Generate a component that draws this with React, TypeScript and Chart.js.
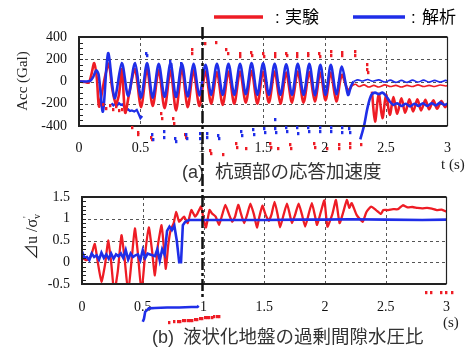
import React, { useEffect, useRef } from 'react';
import { Chart, registerables } from 'chart.js';

Chart.register(...registerables);

type P = [number, number];

const RED = '#ee1c25';
const BLUE = '#1f2ee8';

const X_TICKS = [0, 0.5, 1, 1.5, 2, 2.5, 3];
const ACC_TICKS = [-400, -200, 0, 200, 400];
const PWP_TICKS = [-0.5, 0, 0.5, 1, 1.5];
const ACC_MINOR = 50;
const PWP_MINOR = 0.1;
const MARKER_T = 0.99;

const LEGEND = ['実験', '解析'];
const CAPTION_A = ['(a)', '杭頭部の応答加速度'];
const CAPTION_B = ['(b)', '液状化地盤の過剰間隙水圧比'];

// (a) response acceleration at pile head [t (s), Gal]
const accAna: P[] = [
  [0, 0], [0.05, 0], [0.09, 5], [0.115, 40], [0.14, 100], [0.16, 60], [0.195, -270], [0.237, 255],
  [0.29, -150], [0.349, 165], [0.4, -130], [0.456, 165], [0.505, -145], [0.554, 165], [0.6, -145],
  [0.649, 160], [0.697, -140], [0.745, 165], [0.79, -140], [0.838, 160], [0.885, -135], [0.932, 160],
  [0.98, -125], [1.03, 150], [1.076, -120], [1.123, 160], [1.17, -120], [1.217, 160], [1.264, -120],
  [1.311, 160], [1.358, -115], [1.405, 165], [1.452, -120], [1.499, 165], [1.546, -120], [1.593, 160],
  [1.64, -120], [1.687, 155], [1.734, -120], [1.781, 160], [1.828, -120], [1.875, 160], [1.92, -125],
  [1.965, 150], [2.007, -120], [2.05, 150], [2.095, -115], [2.14, 135], [2.19, -120], [2.215, -40],
  [2.235, 0],
];
const accExp: P[] = [
  [0, 0], [0.05, -5], [0.08, -10], [0.1, 60], [0.124, 165], [0.145, 30], [0.163, -225], [0.19, -80],
  [0.215, 60], [0.243, 160], [0.27, -60], [0.3, -200], [0.325, -120], [0.349, 110], [0.376, -280],
  [0.41, -100], [0.456, 110], [0.505, -230], [0.554, 110], [0.6, -220], [0.649, 100], [0.697, -240],
  [0.745, 100], [0.79, -260], [0.838, 110], [0.885, -230], [0.932, 100], [0.98, -220], [1.03, 90],
  [1.076, -200], [1.123, 85], [1.17, -210], [1.217, 90], [1.264, -200], [1.311, 90], [1.358, -190],
  [1.405, 95], [1.452, -200], [1.499, 90], [1.546, -190], [1.593, 90], [1.64, -200], [1.687, 80],
  [1.734, -190], [1.781, 90], [1.828, -190], [1.875, 85], [1.92, -180], [1.965, 80], [2.007, -170],
  [2.05, 80], [2.095, -180], [2.14, 60], [2.19, -80], [2.22, -40],
];
const accAnaTail: P[] = [
  [2.235, 0], [2.27, 15], [2.31, 5], [2.35, 18], [2.39, 2], [2.44, 15], [2.49, -5], [2.535, 12],
  [2.58, -8], [2.625, 10], [2.67, -8], [2.715, 12], [2.76, -5], [2.805, 12], [2.85, -5], [2.895, 10],
  [2.94, -5], [2.985, 10], [3.0, 5],
];
const accExpTail: P[] = [
  [2.22, -40], [2.25, -25], [2.28, -45], [2.32, -30], [2.36, -50], [2.4, -35], [2.44, -50], [2.49, -30],
  [2.535, -45], [2.58, -35], [2.625, -50], [2.67, -35], [2.715, -45], [2.76, -30], [2.805, -45],
  [2.85, -35], [2.895, -45], [2.94, -32], [2.985, -40], [3.0, -38],
];
const accAnaLate: P[] = [
  [2.29, -520], [2.32, -400], [2.35, -230], [2.38, -120], [2.41, -100], [2.44, -115], [2.47, -100],
  [2.5, -130], [2.53, -180], [2.56, -210], [2.59, -195], [2.625, -220], [2.66, -200], [2.695, -225],
  [2.73, -200], [2.765, -220], [2.8, -195], [2.835, -220], [2.87, -195], [2.905, -215], [2.94, -190],
  [2.975, -210], [3.0, -200],
];
const accExpLate: P[] = [
  [2.385, -90], [2.41, -360], [2.44, -110], [2.47, -330], [2.5, -120], [2.53, -300], [2.56, -140],
  [2.59, -290], [2.625, -150], [2.655, -280], [2.69, -160], [2.72, -270], [2.755, -160], [2.785, -260],
  [2.82, -165], [2.85, -250], [2.885, -170], [2.915, -245], [2.95, -175], [2.98, -230], [3.0, -200],
];
const accAnaOffset: P[] = [
  [0.265, -195], [0.28, -215], [0.295, -200], [0.31, -215], [0.325, -195], [0.34, -210], [0.355, -205],
  [0.37, -230], [0.385, -255], [0.4, -250], [0.415, -265], [0.43, -260], [0.45, -270], [0.47, -255],
  [0.485, -290], [0.5, -330], [0.515, -310],
];
const accExpDotsHigh: P[] = [
  [0.92, 290], [0.925, 255], [1.025, 345], [1.12, 350], [1.2, 285], [1.215, 250], [1.31, 255],
  [1.315, 225], [1.405, 260], [1.41, 230], [1.5, 255], [1.505, 225], [1.595, 255], [1.6, 225],
  [1.69, 255], [1.695, 230], [1.775, 255], [1.78, 225], [1.865, 255], [1.87, 230], [1.955, 250],
  [1.96, 220], [2.05, 265], [2.055, 235], [2.14, 260], [2.145, 230], [2.245, 265], [2.25, 235],
  [2.345, 150], [2.35, 110], [2.355, 80],
];
const accExpDotsLow: P[] = [
  [0.2, -210], [0.225, -240], [0.25, -215], [0.275, -250], [0.3, -225], [0.325, -265], [0.355, -255],
  [0.43, -410], [0.48, -455], [0.485, -475], [0.59, -500], [0.595, -525], [0.67, -290], [0.675, -330],
  [0.77, -330], [0.775, -380], [0.865, -480], [0.87, -505], [1.07, -620], [1.075, -645], [1.17, -660],
  [1.28, -560], [1.285, -590], [1.36, -600], [1.56, -560], [1.565, -590], [1.625, -600], [1.72, -570],
  [1.725, -600], [1.915, -560], [1.92, -590], [2.02, -600], [2.115, -570], [2.12, -600], [2.205, -560],
  [2.21, -590], [2.3, -570],
];
const accAnaDotsHigh: P[] = [[0.55, 255], [0.555, 235], [0.745, 175], [0.75, 155], [0.83, 165]];
const accAnaDotsLow: P[] = [
  [0.595, -480], [0.6, -520], [0.69, -450], [0.695, -500], [0.785, -510], [0.79, -540], [0.875, -480],
  [0.88, -510], [0.985, -470], [0.99, -510], [1.04, -470], [1.045, -500], [1.135, -490], [1.14, -515],
  [1.32, -450], [1.325, -490], [1.42, -430], [1.425, -480], [1.51, -420], [1.515, -460], [1.6, -340],
  [1.6, -420], [1.605, -460], [1.69, -410], [1.695, -450], [1.78, -415], [1.785, -465], [1.87, -410],
  [1.875, -450], [1.96, -410], [1.965, -450], [2.05, -410], [2.055, -450], [2.14, -410], [2.145, -455],
  [2.2, -420], [2.205, -460],
];

// (b) excess pore water pressure ratio
const pwpAna: P[] = [
  [0, 0.25], [0.02, 0.1], [0.04, 0.12], [0.06, 0.05], [0.08, 0.2], [0.1, 0.12], [0.12, 0.16], [0.14, 0.06],
  [0.16, 0.22], [0.18, 0.1], [0.2, 0.18], [0.22, 0.08], [0.24, 0.2], [0.26, 0.08], [0.28, 0.18], [0.3, 0.14],
  [0.32, 0.2], [0.34, 0.1], [0.36, 0.28], [0.38, 0.06], [0.4, 0.2], [0.42, 0.12], [0.44, 0.16], [0.46, 0.18],
  [0.48, 0.05], [0.5, 0.28], [0.52, 0.1], [0.54, 0.2], [0.56, 0.18], [0.58, 0.16], [0.6, 0.14], [0.62, 0.3],
  [0.64, 0.04], [0.66, 0.3], [0.68, 0.18], [0.7, 0.72], [0.72, 0.82], [0.74, 0.74], [0.76, 0.84], [0.78, 0.5],
  [0.8, 0.0], [0.815, 0.0], [0.83, 0.85], [0.85, 0.93], [0.88, 0.97], [0.92, 0.97], [1.0, 0.97], [1.2, 0.97],
  [1.5, 0.97], [1.8, 0.98], [2.0, 0.98], [2.2, 0.99], [2.5, 0.98], [2.8, 0.97], [3.0, 0.98],
];
const pwpExp: P[] = [
  [0, 0.1], [0.03, 0.05], [0.06, 0.08], [0.08, 0.2], [0.105, 0.42], [0.13, 0.0], [0.16, -0.45], [0.19, -0.05],
  [0.215, 0.5], [0.24, 0.0], [0.265, -0.7], [0.295, -0.2], [0.325, 0.62], [0.35, 0.1], [0.38, -0.7],
  [0.41, 0.1], [0.435, 0.78], [0.46, 0.2], [0.49, -0.7], [0.52, 0.2], [0.55, 0.8], [0.575, 0.3], [0.6, -0.3],
  [0.625, 0.4], [0.655, 0.85], [0.675, 0.3], [0.69, -0.15], [0.71, 0.4], [0.73, 0.74], [0.755, 0.9],
  [0.775, 1.16], [0.8, 0.93], [0.84, 1.05], [0.87, 0.9], [0.9, 1.2], [0.93, 1.05], [0.95, 1.12], [0.98, 1.28],
  [1.0, 1.0], [1.02, 0.8], [1.05, 1.2], [1.07, 1.12], [1.1, 1.05], [1.128, 0.86], [1.155, 1.1], [1.18, 1.32],
  [1.21, 1.1], [1.237, 0.93], [1.26, 1.05], [1.286, 1.32], [1.31, 1.1], [1.335, 0.9], [1.36, 1.1],
  [1.386, 1.35], [1.415, 1.1], [1.44, 0.8], [1.46, 1.05], [1.485, 1.3], [1.51, 1.1], [1.537, 0.95],
  [1.56, 1.1], [1.585, 1.39], [1.61, 1.1], [1.63, 0.8], [1.66, 1.1], [1.687, 1.35], [1.71, 1.1],
  [1.728, 0.9], [1.755, 1.1], [1.783, 1.35], [1.81, 1.1], [1.837, 0.82], [1.865, 1.1], [1.892, 1.36],
  [1.915, 1.1], [1.935, 0.86], [1.965, 1.15], [1.995, 1.42], [2.02, 0.82], [2.06, 1.1], [2.09, 1.43],
  [2.12, 0.9], [2.15, 1.15], [2.18, 1.43], [2.2, 1.25], [2.22, 1.36], [2.26, 1.09], [2.31, 0.93],
  [2.34, 1.15], [2.38, 1.28], [2.42, 1.2], [2.46, 1.11], [2.48, 1.2], [2.52, 1.2], [2.56, 1.22], [2.6, 1.22],
  [2.64, 1.31], [2.68, 1.26], [2.72, 1.27], [2.76, 1.25], [2.8, 1.24], [2.84, 1.25], [2.88, 1.23],
  [2.92, 1.2], [2.96, 1.21], [3.0, 1.16],
];
const pwpAnaStray: P[] = [
  [0.5, -1.37], [0.51, -1.3], [0.52, -1.14], [0.535, -1.1], [0.55, -1.06], [0.6, -1.05], [0.7, -1.04],
  [0.8, -1.04], [0.9, -1.03], [0.95, -1.03], [0.96, -1.0],
];
const pwpExpStray: P[] = [
  [0.72, -1.38], [0.76, -1.37], [0.79, -1.37], [0.81, -1.36], [0.83, -1.35], [0.85, -1.35], [0.87, -1.34],
  [0.89, -1.34], [0.91, -1.33], [0.93, -1.32], [0.95, -1.31], [0.97, -1.3], [0.99, -1.29], [1.01, -1.28],
  [1.03, -1.28], [1.05, -1.27], [1.07, -1.27], [1.09, -1.26], [1.11, -1.26], [1.13, -1.25],
];
const pwpExpFar: P[] = [[2.83, -0.7], [2.87, -0.7], [2.96, -0.7], [3.0, -0.7], [3.05, -0.7]];

const xy = (a: P[]) => a.map(([x, y]) => ({ x, y }));

const SERIF = '"Liberation Serif", "Times New Roman", serif';
const JP = '"Liberation Sans", "Noto Sans CJK JP", sans-serif';

const line = (d: P[], color: string, width: number, extra: any = {}) => ({
  data: xy(d), borderColor: color, backgroundColor: color, borderWidth: width,
  pointRadius: 0, tension: 0.3, fill: false, ...extra,
});
// isolated marks; drawn from the dataset's own element positions (may lie outside the plot)
const dots = (d: P[], color: string) => ({
  data: xy(d), showLine: false, pointRadius: 0, borderColor: color, backgroundColor: color,
  dotColor: color, clip: false,
});

const dotPlugin = {
  id: 'dotPlugin',
  afterDatasetsDraw(chart: any) {
    const ctx = chart.ctx;
    ctx.save();
    chart.data.datasets.forEach((ds: any, i: number) => {
      if (!ds.dotColor) return;
      const meta = chart.getDatasetMeta(i);
      ctx.fillStyle = ds.dotColor;
      meta.data.forEach((p: any) => ctx.fillRect(Math.round(p.x - 1.2), Math.round(p.y - 1.6), 2.4, 3.2));
    });
    ctx.restore();
  },
};

function decor(ticksY: number[], minorStep: number) {
  return {
    id: 'decor',
    beforeDatasetsDraw(chart: any) {
      const { ctx, chartArea: a, scales } = chart;
      const x = scales.x, y = scales.y;
      ctx.save();
      ctx.strokeStyle = '#555';
      ctx.lineWidth = 1;
      ctx.setLineDash([3, 3]);
      X_TICKS.slice(1, -1).forEach((v) => {
        const px = Math.round(x.getPixelForValue(v)) + 0.5;
        ctx.beginPath(); ctx.moveTo(px, a.top); ctx.lineTo(px, a.bottom); ctx.stroke();
      });
      ticksY.slice(1, -1).forEach((v) => {
        const py = Math.round(y.getPixelForValue(v)) + 0.5;
        ctx.beginPath(); ctx.moveTo(a.left, py); ctx.lineTo(a.right, py); ctx.stroke();
      });
      ctx.restore();
    },
    afterDatasetsDraw(chart: any) {
      const { ctx, chartArea: a, scales } = chart;
      const y = scales.y;
      ctx.save();
      ctx.strokeStyle = '#222';
      ctx.lineWidth = 2;
      ctx.beginPath();
      ctx.moveTo(a.right, a.top); ctx.lineTo(a.left, a.top); ctx.lineTo(a.left, a.bottom); ctx.lineTo(a.right, a.bottom);
      ctx.stroke();
      ctx.lineWidth = 1.2;
      ctx.beginPath(); ctx.moveTo(a.right, a.top); ctx.lineTo(a.right, a.bottom); ctx.stroke();
      ctx.lineWidth = 1;
      const lo = ticksY[0], hi = ticksY[ticksY.length - 1];
      const n = Math.round((hi - lo) / minorStep);
      for (let i = 1; i < n; i++) {
        const py = Math.round(y.getPixelForValue(lo + i * minorStep)) + 0.5;
        ctx.beginPath(); ctx.moveTo(a.left, py); ctx.lineTo(a.left + 4, py); ctx.stroke();
      }
      ctx.restore();
    },
  };
}

const topText = {
  id: 'topText',
  beforeDraw(chart: any) {
    const { ctx, width, height } = chart;
    ctx.save();
    ctx.fillStyle = '#fff';
    ctx.fillRect(0, 0, width, height);
    ctx.restore();
  },
  afterDraw(chart: any) {
    const { ctx } = chart;
    ctx.save();
    ctx.lineWidth = 3.5;
    ctx.strokeStyle = RED;
    ctx.beginPath(); ctx.moveTo(214, 17); ctx.lineTo(263, 17); ctx.stroke();
    ctx.strokeStyle = BLUE;
    ctx.beginPath(); ctx.moveTo(353, 17); ctx.lineTo(405, 17); ctx.stroke();
    ctx.fillStyle = '#000';
    ctx.textBaseline = 'middle';
    ctx.font = `17px ${JP}`;
    ctx.fillText(':', 275, 18);
    ctx.fillText(LEGEND[0], 285, 18);
    ctx.fillText(':', 411, 18);
    ctx.fillText(LEGEND[1], 422, 18);
    ctx.fillStyle = '#333';
    ctx.font = `18px ${JP}`;
    ctx.fillText(CAPTION_A[0], 182, 173);
    ctx.font = `18.5px ${JP}`;
    ctx.fillText(CAPTION_A[1], 215, 173);
    ctx.fillStyle = '#222';
    ctx.font = `15px ${SERIF}`;
    ctx.fillText('t (s)', 441, 165);
    ctx.translate(23, 81);
    ctx.rotate(-Math.PI / 2);
    ctx.textAlign = 'center';
    ctx.fillText('Acc (Gal)', 0, 0);
    ctx.restore();
  },
};

const bottomText = {
  id: 'bottomText',
  afterDraw(chart: any) {
    const { ctx, scales } = chart;
    ctx.save();
    ctx.fillStyle = '#333';
    ctx.textBaseline = 'middle';
    ctx.font = `18px ${JP}`;
    ctx.fillText(CAPTION_B[0], 152, 338);
    ctx.font = `18.5px ${JP}`;
    ctx.fillText(CAPTION_B[1], 183, 338);
    ctx.fillStyle = '#222';
    ctx.font = `15px ${SERIF}`;
    ctx.fillText('(s)', 443, 323);
    ctx.save();
    ctx.translate(33, 260);
    ctx.rotate(-Math.PI / 2);
    ctx.textAlign = 'left';
    ctx.font = `16px ${SERIF}, "Noto Sans CJK JP"`;
    const main = '⊿u /σ';
    ctx.fillText(main, 0, 0);
    const cx = ctx.measureText(main).width;
    ctx.font = `10px ${SERIF}`;
    ctx.fillText('v', cx, 4);
    ctx.fillText("'", cx + 1, -6);
    ctx.restore();
    const px = Math.round(scales.x.getPixelForValue(MARKER_T)) + 0.5;
    ctx.strokeStyle = '#111';
    ctx.lineWidth = 2.5;
    ctx.setLineDash([12, 3, 3, 3]);
    ctx.beginPath(); ctx.moveTo(px, 27); ctx.lineTo(px, 298); ctx.stroke();
    ctx.restore();
  },
};

const tickFont = { family: SERIF, size: 14 };

export default function App() {
  const topRef = useRef<HTMLCanvasElement>(null);
  const botRef = useRef<HTMLCanvasElement>(null);

  useEffect(() => {
    const xScale = (pad: number) => ({
      type: 'linear', min: X_TICKS[0], max: X_TICKS[X_TICKS.length - 1],
      afterBuildTicks: (s: any) => { s.ticks = X_TICKS.map((v) => ({ value: v })); },
      afterFit: (s: any) => { s.height = 30; },
      ticks: { padding: pad, color: '#111', font: tickFont, maxRotation: 0, autoSkip: false, callback: (v: any) => String(v) },
      grid: { display: false, drawTicks: false },
      border: { display: false },
    });
    const yScale = (ticks: number[], w: number) => ({
      type: 'linear', min: ticks[0], max: ticks[ticks.length - 1],
      afterBuildTicks: (s: any) => { s.ticks = ticks.map((v) => ({ value: v })); },
      afterFit: (s: any) => { s.width = w; },
      ticks: { padding: 12, color: '#111', font: tickFont, callback: (v: any) => String(v) },
      grid: { display: false, drawTicks: false },
      border: { display: false },
    });

    const top = new Chart(topRef.current!, {
      type: 'line',
      data: {
        datasets: [
          line(accAna, BLUE, 2.6),
          line(accExp, RED, 2.6),
          line(accAnaTail, BLUE, 1.6),
          line(accExpTail, RED, 1.6),
          line(accAnaLate, BLUE, 2.6, { clip: false }),
          line(accExpLate, RED, 2.6),
          line(accAnaOffset, BLUE, 2.2, { tension: 0 }),
          dots(accExpDotsHigh, RED),
          dots(accExpDotsLow, RED),
          dots(accAnaDotsHigh, BLUE),
          dots(accAnaDotsLow, BLUE),
        ] as any,
      },
      options: {
        animation: false, responsive: false, maintainAspectRatio: false,
        events: [],
        plugins: { legend: { display: false }, tooltip: { enabled: false } },
        layout: { padding: { left: 0, right: 9, top: 37, bottom: 192 } },
        scales: { x: xScale(14), y: yScale(ACC_TICKS, 79) } as any,
      },
      plugins: [topText, decor(ACC_TICKS, ACC_MINOR), dotPlugin],
    });

    const bottom = new Chart(botRef.current!, {
      type: 'line',
      data: {
        datasets: [
          line(pwpAna, BLUE, 2.6, { tension: 0 }),
          line(pwpExp, RED, 2.3, { tension: 0.15 }),
          line(pwpAnaStray, BLUE, 2.6, { tension: 0, clip: false }),
          dots(pwpExpStray, RED),
          dots(pwpExpFar, RED),
        ] as any,
      },
      options: {
        animation: false, responsive: false, maintainAspectRatio: false,
        events: [],
        plugins: { legend: { display: false }, tooltip: { enabled: false } },
        layout: { padding: { left: 0, right: 16, top: 197, bottom: 34 } },
        scales: { x: xScale(15), y: yScale(PWP_TICKS, 82) } as any,
      },
      plugins: [decor(PWP_TICKS, PWP_MINOR), dotPlugin, bottomText],
    });

    return () => { top.destroy(); bottom.destroy(); };
  }, []);

  const cs: React.CSSProperties = { position: 'absolute', left: 0, top: 0, width: 465, height: 348 };
  return (
    <div style={{ position: 'absolute', left: 0, top: 0, width: 465, height: 348, background: '#fff' }}>
      <canvas ref={topRef} width={465} height={348} style={cs} />
      <canvas ref={botRef} width={465} height={348} style={cs} />
    </div>
  );
}
